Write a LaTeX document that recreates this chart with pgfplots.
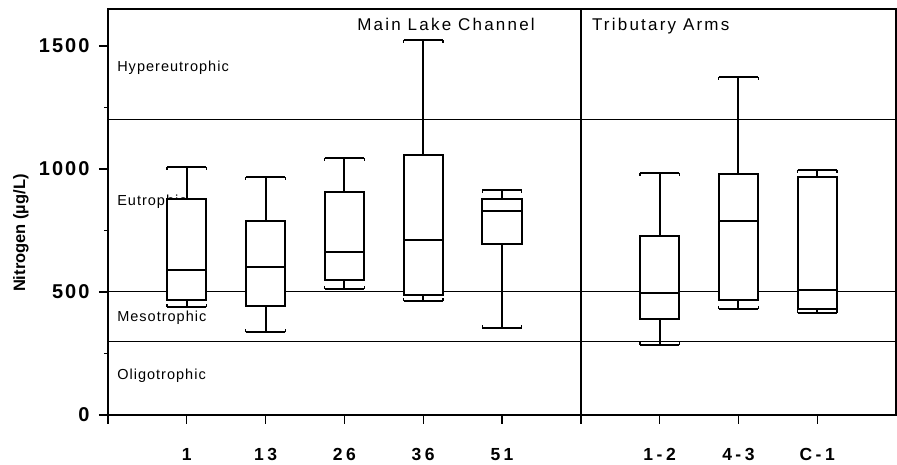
\documentclass[border=0pt]{standalone}
\usepackage{fontspec}
\setmainfont{Liberation Sans}
\newfontfamily\ytfont[LetterSpace=10]{Liberation Sans}
\newfontfamily\xtfont[LetterSpace=20]{Liberation Sans}
\newfontfamily\ttlfont[LetterSpace=13]{Liberation Sans}
\newfontfamily\znfont[LetterSpace=7]{Liberation Sans}
\usepackage{pgfplots}
\pgfplotsset{compat=1.18}
\usepgfplotslibrary{statistics}
\begin{document}
\begin{tikzpicture}
\begin{axis}[
  scale only axis, width=788pt, height=406pt,
  xmin=0, xmax=10, ymin=0, ymax=1650,
  boxplot/draw direction=y,
  xtick={0,1,2,3,4,5,6,7,8,9},
  xticklabels={,1,13,26,36,51,,1-2,4-3,C-1},
  ytick={0,500,1000,1500},
  minor ytick={250,750,1250},
  xtick pos=bottom, ytick pos=left,
  tick align=outside,
  major tick length=9pt, minor tick length=4pt,
  xtick style={line width=1.4pt, black},
  ytick style={line width=1.4pt, black},
  axis line style={line width=1.8pt},
  /pgf/number format/assume math mode=true,
  /pgf/number format/set thousands separator={},
  xticklabel style={font=\xtfont\fontsize{17.5}{17.5}\selectfont\bfseries, anchor=base, yshift=-37pt},
  yticklabel style={font=\ytfont\fontsize{20}{20}\selectfont\bfseries, xshift=-6pt},
  ylabel={Nitrogen (\textmu g/L)},
  ylabel style={font=\fontsize{16.5}{16.5}\selectfont\bfseries, at={(axis description cs:-0.1104,0.448)}, anchor=center},
  clip=false,
]
% trophic zone boundaries
\addplot[black, line width=1.2pt] coordinates {(0,300) (10,300)};
\addplot[black, line width=1pt] coordinates {(0,500) (10,500)};
\addplot[black, line width=1pt] coordinates {(0,1200) (10,1200)};
\addplot[black, line width=1.8pt] coordinates {(6,0) (6,1650)};

\node[font=\znfont\fontsize{14.5}{14.5}\selectfont, anchor=base west, inner sep=0pt] at (axis cs:0.115,1395) {Hypereutrophic};
\node[font=\znfont\fontsize{14.5}{14.5}\selectfont, anchor=base west, inner sep=0pt] at (axis cs:0.115,850) {Eutrophic};
\node[font=\znfont\fontsize{14.5}{14.5}\selectfont, anchor=base west, inner sep=0pt] at (axis cs:0.115,379) {Mesotrophic};
\node[font=\znfont\fontsize{14.5}{14.5}\selectfont, anchor=base west, inner sep=0pt] at (axis cs:0.115,145) {Oligotrophic};
\node[font=\ttlfont\fontsize{17}{17}\selectfont, anchor=base, inner sep=0pt] at (axis cs:4.29,1564) {Main Lake Channel};
\node[font=\ttlfont\fontsize{17}{17}\selectfont, anchor=base west, inner sep=0pt] at (axis cs:6.14,1564) {Tributary Arms};

% box plots
\pgfplotsset{bx/.style={black, fill=white, line width=2pt, mark=none, solid}}
\addplot[bx, boxplot prepared={draw position=1, median=589, upper quartile=878, lower quartile=469, upper whisker=1007, lower whisker=438, box extend=0.5, whisker extend=0.5}] coordinates {};
\addplot[bx, boxplot prepared={draw position=2, median=600, upper quartile=789, lower quartile=442, upper whisker=966, lower whisker=336, box extend=0.5, whisker extend=0.5}] coordinates {};
\addplot[bx, boxplot prepared={draw position=3, median=663, upper quartile=906, lower quartile=550, upper whisker=1043, lower whisker=513, box extend=0.5, whisker extend=0.5}] coordinates {};
\addplot[bx, boxplot prepared={draw position=4, median=710, upper quartile=1057, lower quartile=489, upper whisker=1522, lower whisker=463, box extend=0.5, whisker extend=0.5}] coordinates {};
\addplot[bx, boxplot prepared={draw position=5, median=829, upper quartile=877, lower quartile=696, upper whisker=913, lower whisker=352, box extend=0.5, whisker extend=0.5}] coordinates {};
\addplot[bx, boxplot prepared={draw position=7, median=497, upper quartile=728, lower quartile=389, upper whisker=985, lower whisker=285, box extend=0.5, whisker extend=0.5}] coordinates {};
\addplot[bx, boxplot prepared={draw position=8, median=789, upper quartile=978, lower quartile=469, upper whisker=1372, lower whisker=431, box extend=0.5, whisker extend=0.5}] coordinates {};
\addplot[bx, boxplot prepared={draw position=9, median=509, upper quartile=966, lower quartile=430, upper whisker=996, lower whisker=413, box extend=0.5, whisker extend=0.5}] coordinates {};

% small serifs at the ends of whisker caps
\addplot[black, line width=1.2pt, unbounded coords=jump] table[row sep=\\] {
x y\\
0.75 1007\\ 0.75 995\\ nan nan\\ 1.25 1007\\ 1.25 995\\ nan nan\\
0.75 438\\ 0.75 450\\ nan nan\\ 1.25 438\\ 1.25 450\\ nan nan\\
1.75 966\\ 1.75 954\\ nan nan\\ 2.25 966\\ 2.25 954\\ nan nan\\
1.75 336\\ 1.75 348\\ nan nan\\ 2.25 336\\ 2.25 348\\ nan nan\\
2.75 1043\\ 2.75 1031\\ nan nan\\ 3.25 1043\\ 3.25 1031\\ nan nan\\
2.75 513\\ 2.75 525\\ nan nan\\ 3.25 513\\ 3.25 525\\ nan nan\\
3.75 1522\\ 3.75 1510\\ nan nan\\ 4.25 1522\\ 4.25 1510\\ nan nan\\
3.75 463\\ 3.75 475\\ nan nan\\ 4.25 463\\ 4.25 475\\ nan nan\\
4.75 913\\ 4.75 901\\ nan nan\\ 5.25 913\\ 5.25 901\\ nan nan\\
4.75 352\\ 4.75 364\\ nan nan\\ 5.25 352\\ 5.25 364\\ nan nan\\
6.75 985\\ 6.75 973\\ nan nan\\ 7.25 985\\ 7.25 973\\ nan nan\\
6.75 285\\ 6.75 297\\ nan nan\\ 7.25 285\\ 7.25 297\\ nan nan\\
7.75 1372\\ 7.75 1360\\ nan nan\\ 8.25 1372\\ 8.25 1360\\ nan nan\\
7.75 431\\ 7.75 443\\ nan nan\\ 8.25 431\\ 8.25 443\\ nan nan\\
8.75 996\\ 8.75 984\\ nan nan\\ 9.25 996\\ 9.25 984\\ nan nan\\
8.75 413\\ 8.75 425\\ nan nan\\ 9.25 413\\ 9.25 425\\
};
\end{axis}
\pgfresetboundingbox
\path (-108pt,-50pt) rectangle (789pt,415pt);
\end{tikzpicture}
\end{document}
